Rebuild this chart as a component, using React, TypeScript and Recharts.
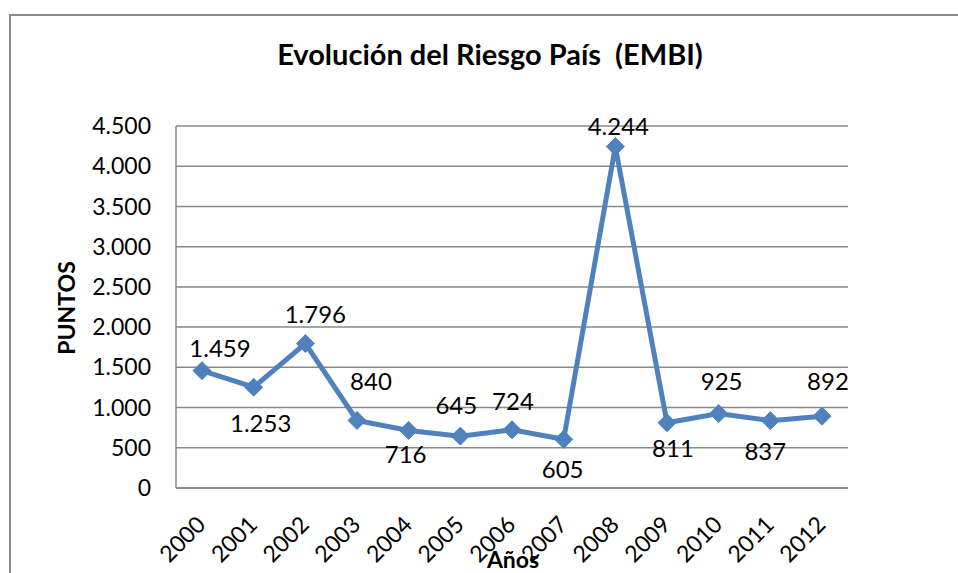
import React from 'react';
import { LineChart, Line, XAxis, YAxis, CartesianGrid } from 'recharts';

// Datos del gráfico
const years = ['2000', '2001', '2002', '2003', '2004', '2005', '2006', '2007', '2008', '2009', '2010', '2011', '2012'];
const embiPoints = [1459, 1253, 1796, 840, 716, 645, 724, 605, 4244, 811, 925, 837, 892];
const yTicks = [0, 500, 1000, 1500, 2000, 2500, 3000, 3500, 4000, 4500];

const data = years.map((year, i) => ({ year, puntos: embiPoints[i] }));

// desplazamiento de cada etiqueta respecto al punto (dx, dy de la línea base)
const labelOffsets: Array<[number, number]> = [
  [18, -14], [7, 45], [10, -21], [14, -30], [-3, 33], [-4, -22], [1, -20],
  [-1, 39], [3, -12], [6, 34], [3, -24], [-5, 39], [6, -26],
];

const lineColor = '#4F81BD';
const gridColor = '#898989';
const font = 'Lato, "Open Sans", sans-serif';

// formato con punto de miles: 1459 -> 1.459
const fmt = (v: number) => String(v).replace(/\B(?=(\d{3})+(?!\d))/g, '.');

const Diamond = (props: any) => {
  const { cx, cy } = props;
  if (cx == null || cy == null) return null;
  const r = 9;
  return (
    <polygon
      points={`${cx},${cy - r} ${cx + r},${cy} ${cx},${cy + r} ${cx - r},${cy}`}
      fill={lineColor}
      stroke={lineColor}
    />
  );
};

const PointLabel = (props: any) => {
  const { x, y, value, index } = props;
  const [dx, dy] = labelOffsets[index] || [0, -14];
  return (
    <text x={x + dx} y={y + dy} textAnchor="middle" fontSize={24} fontFamily={font} fill="#000">
      {fmt(value)}
    </text>
  );
};

const YearTick = (props: any) => {
  const { x, payload } = props;
  const ax = x + 5;
  const ay = 526;
  return (
    <text
      x={ax}
      y={ay}
      textAnchor="end"
      fontSize={23}
      fontFamily={font}
      fill="#000"
      transform={`rotate(-45, ${ax}, ${ay})`}
    >
      {payload.value}
    </text>
  );
};

const App: React.FC = () => {
  return (
    <div style={{ position: 'fixed', left: 0, top: 0, width: 958, height: 573, overflow: 'hidden', background: '#fff' }}>
      {/* marco del gráfico */}
      <div
        style={{
          position: 'absolute',
          left: 9,
          top: 14,
          width: 1000,
          height: 600,
          border: `2px solid ${gridColor}`,
        }}
      />
      <div style={{ position: 'absolute', left: 0, top: 0 }}>
        <LineChart width={958} height={573} data={data} margin={{ top: 126, right: 110, bottom: 0, left: 0 }}>
          <CartesianGrid vertical={false} stroke={gridColor} strokeWidth={1.5} />
          <XAxis
            dataKey="year"
            padding={{ left: 26, right: 26 }}
            axisLine={{ stroke: gridColor, strokeWidth: 1.5 }}
            tickLine={false}
            interval={0}
            tick={<YearTick />}
            height={85}
          />
          <YAxis
            width={176}
            domain={[0, 4500]}
            ticks={yTicks}
            interval={0}
            tickFormatter={fmt}
            axisLine={{ stroke: gridColor, strokeWidth: 1.5 }}
            tickLine={false}
            tickSize={0}
            tickMargin={25}
            tick={{ fontSize: 23, fontFamily: font, fill: '#000' }}
          />
          <Line
            type="linear"
            dataKey="puntos"
            stroke={lineColor}
            strokeWidth={5}
            dot={<Diamond />}
            activeDot={false}
            label={<PointLabel />}
            isAnimationActive={false}
          />
        </LineChart>
      </div>
      {/* títulos */}
      <svg width={958} height={573} style={{ position: 'absolute', left: 0, top: 0, pointerEvents: 'none' }}>
        <text
          x={490}
          y={65}
          textAnchor="middle"
          fontSize={29}
          fontWeight="bold"
          fontFamily={font}
          fill="#000"
          style={{ whiteSpace: 'pre' }}
        >
          Evolución del Riesgo País  (EMBI)
        </text>
        <text
          x={0}
          y={0}
          textAnchor="middle"
          fontSize={23}
          fontWeight="bold"
          fontFamily={font}
          fill="#000"
          transform="translate(75, 308) rotate(-90)"
        >
          PUNTOS
        </text>
        <text x={513} y={568} textAnchor="middle" fontSize={23} fontWeight="bold" fontFamily={font} fill="#000">
          Años
        </text>
      </svg>
    </div>
  );
};

export default App;
